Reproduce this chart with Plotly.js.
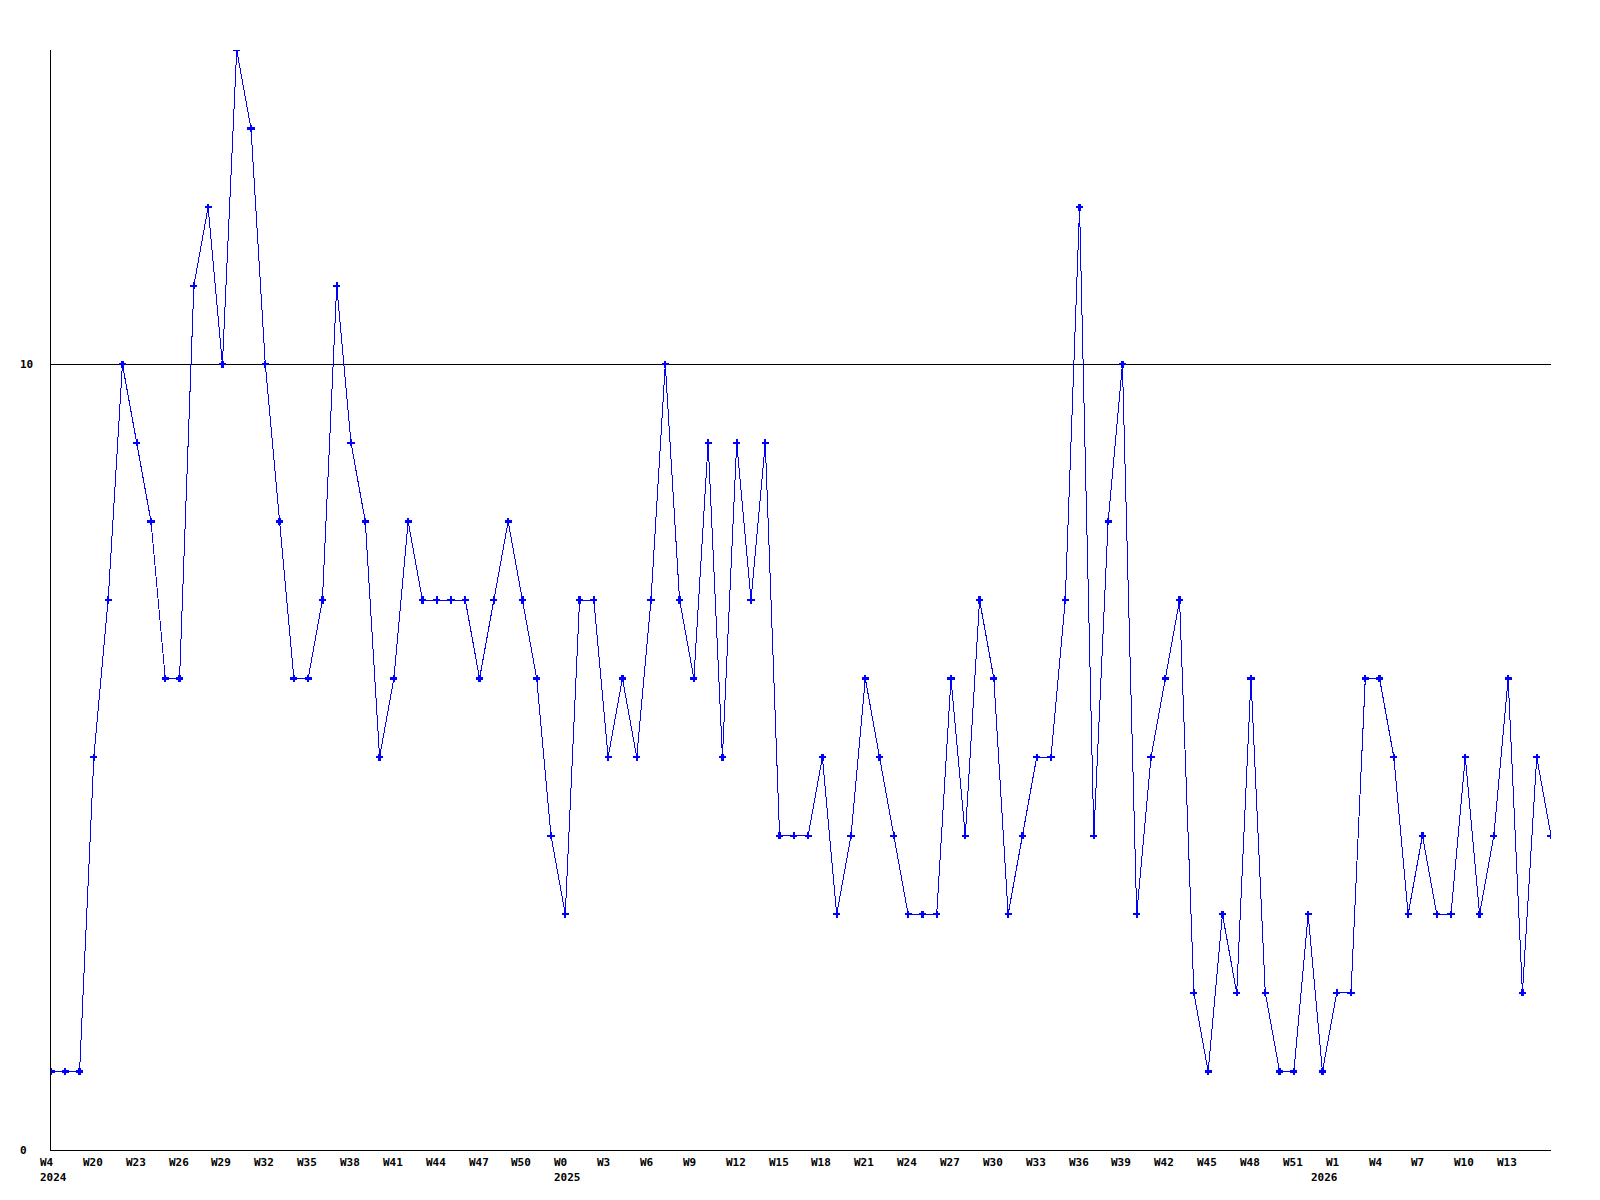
<!DOCTYPE html>
<html>
<head>
<meta charset="utf-8">
<script src="https://cdn.plot.ly/plotly-3.0.1.min.js"></script>
<style>
html,body{margin:0;padding:0;background:#fff;}
#chart{width:1600px;height:1200px;}
.scatterlayer .js-line{shape-rendering:crispEdges;}
.scatterlayer .point{shape-rendering:crispEdges;}
</style>
</head>
<body>
<div id="chart"></div>
<script>
// Weekly values (one point per week)
const values = [
  1, 1, 1, 5, 7, 10, 9, 8, 6, 6,
  11, 12, 10, 14, 13, 10, 8, 6, 6, 7,
  11, 9, 8, 5, 6, 8, 7, 7, 7, 7,
  6, 7, 8, 7, 6, 4, 3, 7, 7, 5,
  6, 5, 7, 10, 7, 6, 9, 5, 9, 7,
  9, 4, 4, 4, 5, 3, 4, 6, 5, 4,
  3, 3, 3, 6, 4, 7, 6, 3, 4, 5,
  5, 7, 12, 4, 8, 10, 3, 5, 6, 7,
  2, 1, 3, 2, 6, 2, 1, 1, 3, 1,
  2, 2, 6, 6, 5, 3, 4, 3, 3, 5,
  3, 4, 6, 2, 5, 4
];

// X tick labels (every third week)
const weekTickIdx = [0, 3, 6, 9, 12, 15, 18, 21, 24, 27, 30, 33, 36, 39, 42, 45, 48, 51, 54, 57, 60, 63, 66, 69, 72, 75, 78, 81, 84, 87, 90, 93, 96, 99, 102];
const weekTickText = ["W4", "W20", "W23", "W26", "W29", "W32", "W35", "W38", "W41", "W44", "W47", "W50",
  "W0", "W3", "W6", "W9", "W12", "W15", "W18", "W21", "W24", "W27", "W30", "W33", "W36", "W39", "W42", "W45", "W48", "W51",
  "W1", "W4", "W7", "W10", "W13"];

// Year labels
const yearIdx = [0, 36, 90];
const yearText = ["2024", "2025", "2026"];

// Y tick labels
const yTickVals = [0, 10];
const yTickText = ["0", "10"];

const xIdx = values.map((_, i) => i);

const font = {family: "'DejaVu Sans Mono', 'Liberation Mono', monospace", size: 11, color: "#000"};
const boldText = t => "<b>" + t + "</b>";

const annotations = [];
weekTickIdx.forEach((xi, k) => {
  annotations.push({
    x: xi, xref: "x", y: 0, yref: "paper",
    text: boldText(weekTickText[k]), showarrow: false,
    xanchor: "left", yanchor: "middle", xshift: -13, yshift: -12,
    font: font
  });
});
yearIdx.forEach((xi, k) => {
  const last = k === yearIdx.length - 1;
  annotations.push({
    x: xi, xref: "x", y: 0, yref: "paper",
    text: boldText(yearText[k]), showarrow: false,
    xanchor: last ? "right" : "left", yanchor: "middle",
    xshift: last ? 3 : -13, yshift: -27,
    font: font
  });
});
yTickVals.forEach((v, k) => {
  annotations.push({
    x: 0, xref: "paper", y: v, yref: "y",
    text: boldText(yTickText[k]), showarrow: false,
    xanchor: "left", yanchor: "middle", xshift: -33,
    font: font
  });
});

const trace = {
  x: xIdx,
  y: values,
  type: "scatter",
  mode: "lines+markers",
  line: {color: "#0000ff", width: 1},
  marker: {symbol: "cross", size: 6, color: "#0000ff", line: {width: 0}},
  cliponaxis: true,
  hoverinfo: "skip"
};

const layout = {
  width: 1600,
  height: 1200,
  margin: {l: 51, r: 49, t: 50, b: 50, pad: 0},
  paper_bgcolor: "#fff",
  plot_bgcolor: "#fff",
  showlegend: false,
  xaxis: {
    range: [0, 105],
    showgrid: false,
    zeroline: false,
    showline: true,
    linecolor: "#000",
    linewidth: 1,
    ticks: "",
    showticklabels: false
  },
  yaxis: {
    range: [0, 14],
    tickmode: "array",
    tickvals: yTickVals,
    showgrid: true,
    gridcolor: "#000",
    gridwidth: 1,
    zeroline: false,
    showline: true,
    linecolor: "#000",
    linewidth: 1,
    ticks: "",
    showticklabels: false
  },
  annotations: annotations
};

Plotly.newPlot("chart", [trace], layout, {displayModeBar: false, staticPlot: true});
</script>
</body>
</html>
